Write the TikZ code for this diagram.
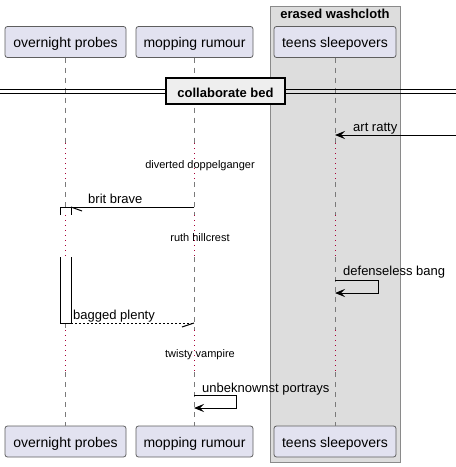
\documentclass[tikz,border=0pt]{standalone}
\usepackage{fontspec}
\setmainfont{Liberation Sans}
\usetikzlibrary{arrows.meta}
\definecolor{partfill}{HTML}{E2E2F0}
\definecolor{partline}{HTML}{5E5E5E}
\definecolor{grpfill}{HTML}{DDDDDD}
\definecolor{grpline}{HTML}{8A8A8A}
\definecolor{delayc}{HTML}{A80036}
\definecolor{lifec}{HTML}{7A7A7A}
\definecolor{divfill}{HTML}{EEEEEE}
\begin{document}
\begin{tikzpicture}[x=1pt,y=-1pt,
  part/.style={draw=partline, fill=partfill, rounded corners=2.5pt, line width=0.8pt,
    minimum height=31pt, inner sep=0pt, text height=13pt, text depth=2pt,
    font=\fontsize{14}{16}\selectfont},
  life/.style={draw=lifec, line width=0.7pt, dash pattern=on 5pt off 5pt},
  dly/.style={draw=delayc, line width=0.9pt, dash pattern=on 1pt off 4pt},
  msg/.style={line width=1pt},
  tipd/.style={-{Stealth[length=10pt,width=8pt,inset=4pt]}},
  mlab/.style={font=\fontsize{13}{15}\selectfont, anchor=base west, inner sep=0pt},
  dlab/.style={font=\fontsize{11}{13}\selectfont, anchor=base, inner sep=0pt},
  blab/.style={font=\bfseries\fontsize{13}{15}\selectfont, anchor=base, inner sep=0pt},
]
\useasboundingbox (0,0) rectangle (456,467);

% group box
\draw[draw=grpline, fill=grpfill, line width=0.8pt] (270,6) rectangle (400,462);
\node[blab] (gtitle) at (335,18.5) {erased washcloth};

% participants
\node[part, minimum width=121pt] (p1t) at (65.5,42) {overnight probes};
\node[part, minimum width=117pt] (p2t) at (194.5,42) {mopping rumour};
\node[part, minimum width=122pt] (p3t) at (335,42) {teens sleepovers};
\node[part, minimum width=121pt] (p1b) at (65.5,441.5) {overnight probes};
\node[part, minimum width=117pt] (p2b) at (194.5,441.5) {mopping rumour};
\node[part, minimum width=122pt] (p3b) at (335,441.5) {teens sleepovers};

% lifelines: overnight probes (x=65)
\draw[life] (65,57.5) -- (65,143);
\draw[dly]  (65,143) -- (65,182);
\draw[life] (65,182) -- (65,207);
\draw[dly]  (65,215) -- (65,257);
\draw[life] (65,323) -- (65,330);
\draw[dly]  (65,330) -- (65,372);
\draw[life] (65,372) -- (65,426);
% lifelines: mopping rumour (x=194) and teens sleepovers (x=335)
\foreach \lx in {194,335}{
  \draw[life] (\lx,57.5) -- (\lx,143);
  \draw[dly]  (\lx,143) -- (\lx,182);
  \draw[life] (\lx,182) -- (\lx,215);
  \draw[dly]  (\lx,215) -- (\lx,257);
  \draw[life] (\lx,257) -- (\lx,330);
  \draw[dly]  (\lx,330) -- (\lx,372);
  \draw[life] (\lx,372) -- (\lx,426);
}

% divider
\draw[line width=0.9pt] (0,89) -- (456,89);
\draw[line width=0.9pt] (0,93) -- (456,93);
\node[draw=black, fill=divfill, line width=1.6pt, minimum width=119pt, minimum height=26pt, inner sep=0pt] (div) at (225.5,91) {};
\node[blab] (divlab) at (225.5,97) {collaborate bed};

% art ratty
\coordinate (ar0) at (456,135);
\coordinate (ar1) at (335,135);
\draw[msg,tipd] (ar0) -- (ar1);
\node[mlab] (arl) at (353,131) {art ratty};

% delay 1
\node[dlab] (d1) at (200,168) {diverted doppelganger};

% brit brave
\coordinate (bb0) at (194,207);
\coordinate (bb1) at (71,207);
\draw[line width=1pt] (60,215) -- (60,207) -- (71,207) -- (71,215);
\draw[msg] (bb0) -- (bb1);
\draw[msg] (bb1) -- ++(11,4);
\node[mlab] (bbl) at (88,203) {brit brave};

% delay 2
\node[dlab] (d2) at (200,241) {ruth hillcrest};

% activation
\draw[line width=1pt, fill=white] (60,257) -- (60,323) -- (71,323) -- (71,257);

% defenseless bang
\coordinate (db0) at (335,280);
\coordinate (db1) at (335,293);
\draw[msg,tipd] (db0) -- (378,280) -- (378,293) -- (db1);
\node[mlab] (dbl) at (343,275) {defenseless bang};

% bagged plenty
\coordinate (bp0) at (71,323);
\coordinate (bp1) at (194,323);
\draw[msg, dash pattern=on 2pt off 2pt] (bp0) -- (bp1);
\draw[msg] (bp1) -- ++(-12,4);
\node[mlab] (bpl) at (73,319) {bagged plenty};

% delay 3
\node[dlab] (d3) at (200,357) {twisty vampire};

% unbeknownst portrays
\coordinate (up0) at (194,395);
\coordinate (up1) at (194,408);
\draw[msg,tipd] (up0) -- (236,395) -- (236,408) -- (up1);
\node[mlab] (upl) at (202,392) {unbeknownst portrays};
\end{tikzpicture}
\end{document}
